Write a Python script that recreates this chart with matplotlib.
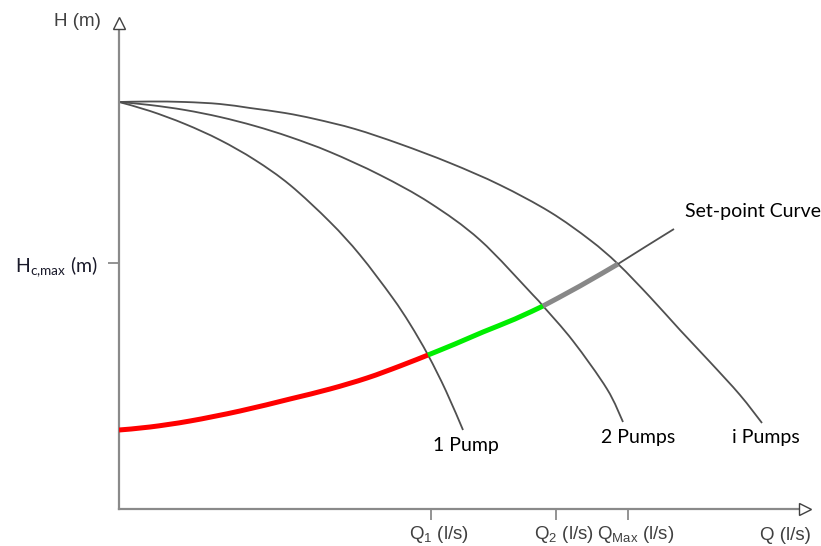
import matplotlib.pyplot as plt
from matplotlib.path import Path
from matplotlib.patches import PathPatch
from matplotlib.transforms import ScaledTranslation

# pump curves (Q, H in drawing units)
q_1pump = [0, 31, 66, 101, 136, 171, 211, 241, 273, 291, 309, 327, 344]
h_1pump = [407, 398, 385, 369, 349, 324, 287, 254, 212, 185, 154, 118, 79]

q_2pump = [0, 31, 66, 101, 136, 171, 211, 261, 311, 361, 414, 424, 454, 488, 504]
h_2pump = [407, 404, 399, 392, 383, 372, 357, 334, 306, 269, 214, 203, 168, 120, 87]

q_ipump = [0, 31, 66, 101, 131, 166, 196, 236, 281, 331, 381, 431, 471, 499, 531, 561, 591, 621, 643]
h_ipump = [407, 407.5, 407, 405, 401, 396, 390, 380, 365, 346, 324, 297, 269, 245, 212, 179, 147, 114, 86]

# set-point curve
q_set = [0, 31, 71, 121, 171, 211, 248, 281, 309, 336, 364, 396, 424, 461, 499, 526, 555]
h_set = [79, 82, 88, 98, 110, 120, 131, 143, 154, 165, 177, 190, 203, 223, 245, 262, 280]
i_q1, i_q2, i_qmax = 8, 12, 14   # indices where the pumps cut the set-point curve

x_ticks = [312, 437, 509]
x_ticklabels = [r'Q$_{\mathregular{1}}$ (l/s)', r'Q$_{\mathregular{2}}$ (l/s)',
                r'Q$_{\mathregular{Max}}$ (l/s)']
y_ticks = [246]
y_ticklabels = [r'H$_{\mathregular{c{,}max}}$ (m)']

axis_grey = '#8a8a8a'
curve_grey = '#505050'
text_grey = '#404040'
calibri_like = 'Lato'
arial_like = 'Liberation Sans'


def smooth_line(ax, q, h, **kw):
    # draw the read points joined by a smooth (Catmull-Rom) bezier path
    pts = list(zip(q, h))
    verts = [pts[0]]
    codes = [Path.MOVETO]
    for i in range(len(pts) - 1):
        p0 = pts[i - 1] if i > 0 else pts[i]
        p1 = pts[i]
        p2 = pts[i + 1]
        p3 = pts[i + 2] if i + 2 < len(pts) else pts[i + 1]
        c1 = (p1[0] + (p2[0] - p0[0]) / 6, p1[1] + (p2[1] - p0[1]) / 6)
        c2 = (p2[0] - (p3[0] - p1[0]) / 6, p2[1] - (p3[1] - p1[1]) / 6)
        verts += [c1, c2, p2]
        codes += [Path.CURVE4] * 3
    ax.add_patch(PathPatch(Path(verts, codes), fill=False, **kw))


fig = plt.figure(figsize=(8.21, 5.46), dpi=100)
W, H = 821, 546
ax = fig.add_axes([119 / W, (H - 509) / H, (805 - 119) / W, (509 - 22.5) / H])
ax.set_xlim(0, 686)
ax.set_ylim(0, 486.5)

for s in ['top', 'right']:
    ax.spines[s].set_visible(False)
for s in ['left', 'bottom']:
    ax.spines[s].set_color(axis_grey)
    ax.spines[s].set_linewidth(1.6)

# arrow heads
ax.plot(0, 1, marker='^', ms=8.5, mfc='white', mec=text_grey, mew=1.0,
        transform=ax.transAxes, clip_on=False, zorder=5)
ax.plot(1, 0, marker='>', ms=8.5, mfc='white', mec=text_grey, mew=1.0,
        transform=ax.transAxes, clip_on=False, zorder=5)

# pump curves
for q, h in [(q_1pump, h_1pump), (q_2pump, h_2pump), (q_ipump, h_ipump)]:
    smooth_line(ax, q, h, edgecolor=curve_grey, lw=1.3, capstyle='butt', zorder=2)

# set-point curve in pieces
smooth_line(ax, q_set[:i_q1 + 1], h_set[:i_q1 + 1], edgecolor='#ff0000', lw=3.6,
            capstyle='butt', zorder=3)
smooth_line(ax, q_set[i_q1:i_q2 + 1], h_set[i_q1:i_q2 + 1], edgecolor='#00ee00', lw=3.6,
            capstyle='butt', zorder=3)
smooth_line(ax, q_set[i_q2:i_qmax + 1], h_set[i_q2:i_qmax + 1], edgecolor='#888888', lw=3.6,
            capstyle='butt', zorder=3)
smooth_line(ax, q_set[i_qmax:], h_set[i_qmax:], edgecolor=curve_grey, lw=1.3, zorder=3)

# ticks
ax.set_xticks(x_ticks)
ax.set_xticklabels(x_ticklabels, fontsize=13.5, family=arial_like, color=text_grey)
ax.set_yticks(y_ticks)
ax.set_yticklabels(y_ticklabels, fontsize=14, family=calibri_like, color='#1a1a2a')
ax.tick_params(axis='both', direction='out', length=8, width=1.3, color=axis_grey)
ax.tick_params(axis='x', pad=3)
ax.tick_params(axis='y', pad=7)
shift = ScaledTranslation(8 / 100, 0, fig.dpi_scale_trans)
for lab in ax.get_xticklabels():
    lab.set_transform(lab.get_transform() + shift)

# axis titles
ax.text(-18, 487, 'H (m)', ha='right', va='center', fontsize=13.5,
        family=arial_like, color=text_grey, clip_on=False)
ax.text(666, -26, 'Q (l/s)', ha='center', va='center', fontsize=13.5,
        family=arial_like, color=text_grey, clip_on=False)

# curve labels
ax.text(347, 64, '1 Pump', ha='center', va='center', fontsize=14, family=calibri_like)
ax.text(519, 72, '2 Pumps', ha='center', va='center', fontsize=14, family=calibri_like)
ax.text(647, 72, 'i Pumps', ha='center', va='center', fontsize=14, family=calibri_like)
ax.text(634, 297, 'Set-point Curve', ha='center', va='center', fontsize=14,
        family=calibri_like, clip_on=False)

fig.savefig('out.png', dpi=100)
